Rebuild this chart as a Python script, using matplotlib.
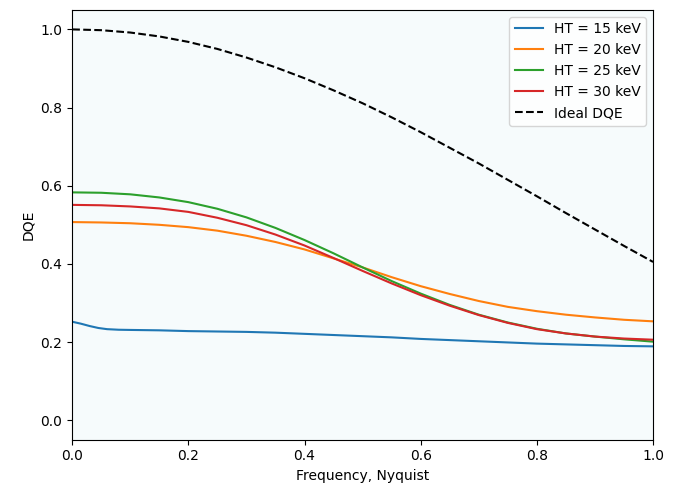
import numpy as np
import matplotlib
matplotlib.use("Agg")
import matplotlib.pyplot as plt

# Spatial frequency grid (fraction of Nyquist) and DQE values.
freq = [0.0, 0.05, 0.1, 0.15, 0.2, 0.25, 0.3, 0.35, 0.4, 0.45, 0.5,
        0.55, 0.6, 0.65, 0.7, 0.75, 0.8, 0.85, 0.9, 0.95, 1.0]

freq_15 = [0.0, 0.015, 0.03, 0.045, 0.06, 0.08, 0.1, 0.15, 0.2, 0.25, 0.3, 0.35,
           0.4, 0.45, 0.5, 0.55, 0.6, 0.65, 0.7, 0.75, 0.8, 0.85, 0.9, 0.95, 1.0]
dqe_15 = [0.252, 0.247, 0.241, 0.236, 0.233, 0.2315, 0.231, 0.230, 0.228, 0.227,
          0.226, 0.224, 0.221, 0.218, 0.215, 0.212, 0.208, 0.205, 0.202, 0.199,
          0.196, 0.194, 0.192, 0.190, 0.189]
dqe_20 = [0.507, 0.506, 0.504, 0.500, 0.494, 0.485, 0.472, 0.456, 0.437, 0.414,
          0.391, 0.366, 0.343, 0.323, 0.305, 0.290, 0.279, 0.270, 0.263, 0.257, 0.253]
dqe_25 = [0.583, 0.582, 0.578, 0.570, 0.558, 0.541, 0.519, 0.492, 0.461, 0.427,
          0.391, 0.356, 0.324, 0.295, 0.270, 0.250, 0.234, 0.222, 0.214, 0.207, 0.201]
dqe_30 = [0.551, 0.550, 0.547, 0.542, 0.533, 0.518, 0.499, 0.475, 0.447, 0.415,
          0.382, 0.350, 0.320, 0.293, 0.269, 0.249, 0.233, 0.222, 0.214, 0.209, 0.206]
dqe_ideal = [1.000, 0.998, 0.992, 0.982, 0.968, 0.950, 0.928, 0.903, 0.875, 0.844,
             0.811, 0.775, 0.737, 0.697, 0.657, 0.615, 0.573, 0.530, 0.488, 0.446, 0.405]

fig = plt.figure(figsize=(6.81, 4.93), dpi=100)
ax = fig.add_axes([0.106, 0.108, 0.853, 0.872])
ax.set_facecolor('#f6fbfc')

ax.plot(freq_15, dqe_15, label='HT = 15 keV')
ax.plot(freq, dqe_20, label='HT = 20 keV')
ax.plot(freq, dqe_25, label='HT = 25 keV')
ax.plot(freq, dqe_30, label='HT = 30 keV')
ax.plot(freq, dqe_ideal, 'k--', label='Ideal DQE')

ax.set_xlim(0, 1)
ax.set_ylim(-0.05, 1.05)
ax.set_xlabel('Frequency, Nyquist')
ax.set_ylabel('DQE')
ax.legend(loc='upper right')

plt.savefig('out.png', dpi=100)
